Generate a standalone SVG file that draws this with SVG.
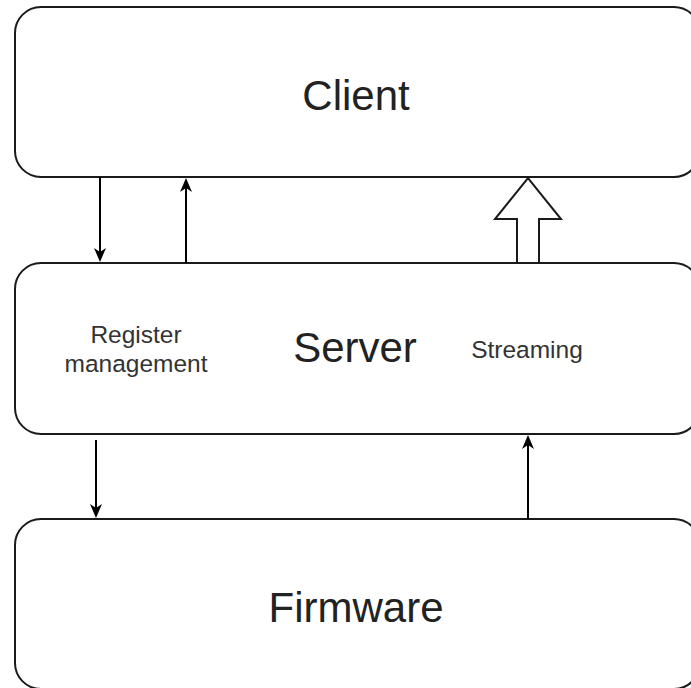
<svg xmlns="http://www.w3.org/2000/svg" width="691" height="688" viewBox="0 0 691 688">
<style>
.box{fill:#fff;stroke:#1a1a1a;stroke-width:2}
.big{font-family:"Liberation Sans",Arial,sans-serif;font-size:42px;fill:#222;text-anchor:middle}
.small{font-family:"Liberation Sans",Arial,sans-serif;font-size:24.5px;fill:#333;text-anchor:middle}
.conn{stroke:#000;stroke-width:2;fill:none}
.head{fill:#000;stroke:none}
</style>
<defs>
<path id="down" d="M0,0 L-6,-14 L0,-10 L6,-14 Z"/>
<path id="up" d="M0,0 L-6,14 L0,10 L6,14 Z"/>
</defs>
<rect width="691" height="688" fill="#fff"/>
<g id="client">
<rect class="box" x="15" y="7" width="685" height="170" rx="26" ry="26"/>
<text class="big" x="356" y="110">Client</text>
</g>
<g id="server">
<rect class="box" x="15" y="263" width="685" height="171" rx="26" ry="26"/>
<text class="big" x="355" y="362">Server</text>
<text class="small" x="136" y="343">Register</text>
<text class="small" x="136" y="372">management</text>
<text class="small" x="527" y="358">Streaming</text>
</g>
<g id="firmware">
<rect class="box" x="15" y="519" width="685" height="170" rx="26" ry="26"/>
<text class="big" x="356" y="622">Firmware</text>
</g>
<g id="connectors">
<line class="conn" x1="100" y1="177" x2="100" y2="254"/>
<use href="#down" class="head" x="100" y="262"/>
<line class="conn" x1="186" y1="263" x2="186" y2="186"/>
<use href="#up" class="head" x="186" y="178"/>
<line class="conn" x1="96" y1="440" x2="96" y2="510"/>
<use href="#down" class="head" x="96" y="518"/>
<line class="conn" x1="528" y1="519" x2="528" y2="443"/>
<use href="#up" class="head" x="528" y="435"/>
<path d="M517,263 L517,219 L495,219 L528,178 L561,219 L539,219 L539,263 Z" fill="#fff" stroke="#1a1a1a" stroke-width="2" stroke-linejoin="miter"/>
</g>
</svg>
